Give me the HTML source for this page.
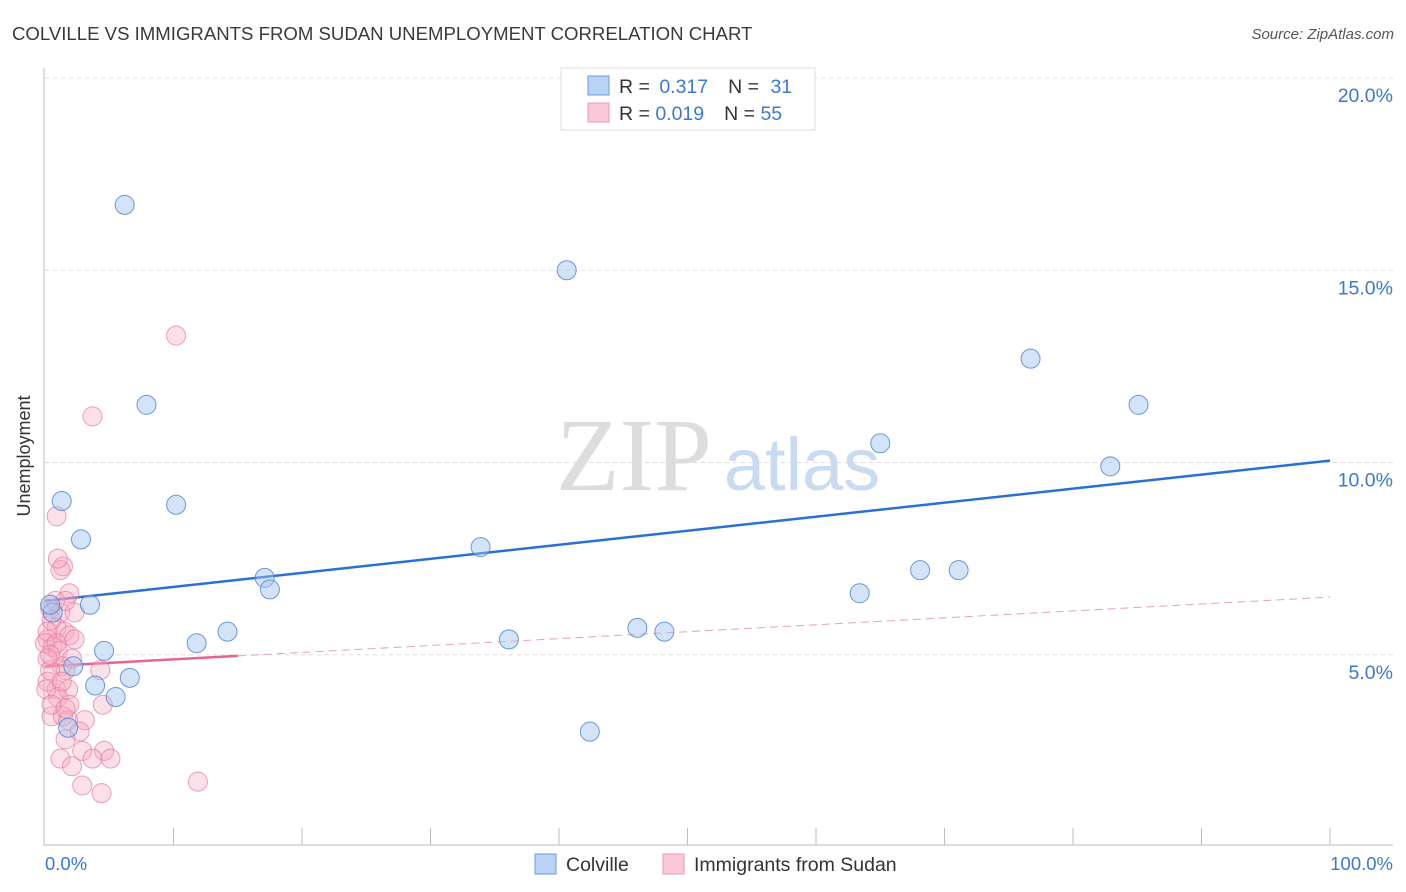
<!DOCTYPE html>
<html><head><meta charset="utf-8"><style>
body{margin:0;background:#fff;font-family:"Liberation Sans",sans-serif;}
svg{display:block}
</style></head><body>
<svg id="chart" width="1406" height="892" xmlns="http://www.w3.org/2000/svg">
<text x="12" y="40" font-size="18.6" fill="#3a3a3a">COLVILLE VS IMMIGRANTS FROM SUDAN UNEMPLOYMENT CORRELATION CHART</text>
<text x="1394" y="39" font-size="15" fill="#555" text-anchor="end" font-style="italic">Source: ZipAtlas.com</text>
<g id="grid"></g>
<g>
<text x="634" y="490" font-size="104" font-family="Liberation Serif,serif" fill="#ddd" text-anchor="middle">ZIP</text>
<text x="802" y="490" font-size="74" fill="#c9dbf0" text-anchor="middle">atlas</text>
</g>
<line x1="44" y1="68" x2="44" y2="845" stroke="#bbb"/>
<line x1="44" y1="845" x2="1393" y2="845" stroke="#bbb"/>
<text x="30" y="456" font-size="18" fill="#333" text-anchor="middle" transform="rotate(-90 30 456)">Unemployment</text>
<text x="45" y="870" font-size="18.5" fill="#3a78d6">0.0%</text>
<text x="1393" y="870" font-size="18.5" fill="#3a78d6" text-anchor="end">100.0%</text>
<g id="lines"></g>
<g id="points"></g>
<g>
<rect x="561" y="68" width="254" height="62" fill="#fff" stroke="#ddd"/>
<rect x="588" y="76" width="21" height="19" fill="#b8d3f5" stroke="#6a9be0"/>
<rect x="588" y="103" width="21" height="19" fill="#fac8d6" stroke="#ee9ab5"/>
<text x="619" y="93" font-size="19.5" fill="#333">R = <tspan fill="#3a78d6" dx="4">0.317</tspan><tspan dx="20">N = </tspan><tspan fill="#3a78d6" dx="6">31</tspan></text>
<text x="619" y="120" font-size="19.5" fill="#333">R = <tspan fill="#3a78d6">0.019</tspan><tspan dx="20">N = </tspan><tspan fill="#3a78d6">55</tspan></text>
</g>
<g>
<rect x="535" y="854" width="21" height="20" fill="#b8d3f5" stroke="#6a9be0"/>
<text x="566" y="871" font-size="19.5" fill="#333">Colville</text>
<rect x="663" y="854" width="21" height="20" fill="#fac8d6" stroke="#ee9ab5"/>
<text x="694" y="871" font-size="19.5" fill="#333">Immigrants from Sudan</text>
</g>
</svg>
<script>
const yTicks=[5,10,15,20];
const yTickLabels=["5.0%","10.0%","15.0%","20.0%"];
const xTicks=[10,20,30,40,50,60,70,80,90,100];
const blueX=[6.2,40.6,7.9,76.7,85.1,65.0,82.9,1.3,10.2,2.8,33.9,17.1,17.5,68.1,71.1,63.4,3.5,0.6,46.1,48.2,14.2,36.1,11.8,4.6,2.2,3.9,6.6,5.5,42.4,1.8,0.4];
const blueY=[16.7,15.0,11.5,12.7,11.5,10.5,9.9,9.0,8.9,8.0,7.8,7.0,6.7,7.2,7.2,6.6,6.3,6.1,5.7,5.6,5.6,5.4,5.3,5.1,4.7,4.2,4.4,3.9,3.0,3.1,6.3];
const pinkX=[10.2,3.7,0.9,1.4,1.2,1.9,0.4,1.2,2.3,0.5,0.9,1.5,1.9,0.2,0.6,1.0,0.2,2.1,1.3,1.6,4.3,0.4,0.2,0.9,1.8,1.0,1.9,4.5,0.5,1.4,1.8,3.1,2.7,1.6,2.9,4.6,1.2,3.7,5.1,2.1,2.9,11.9,4.4,0.2,0.8,1.6,0.1,0.5,1.0,0.0,0.9,2.3,0.4,1.3,1.6];
const pinkY=[13.3,11.2,8.6,7.3,7.2,6.6,6.2,6.1,6.1,5.9,5.7,5.6,5.5,5.4,5.2,5.1,4.9,4.9,4.7,4.6,4.6,4.6,4.3,4.1,4.1,3.9,3.7,3.7,3.4,3.4,3.3,3.3,3.0,2.8,2.5,2.5,2.3,2.3,2.3,2.1,1.6,1.7,1.4,5.6,6.4,6.4,4.1,3.7,7.5,5.3,5.3,5.4,5.0,4.3,3.6];
const blueTrend=[6.4,10.05];
const pinkTrend=[4.7,6.5];
const pinkSolidEnd=15;
const X0=45,X1=1330,Y0=847,PPY=38.45;
const sx=v=>X0+(X1-X0)*v/100;
const sy=v=>Y0-v*PPY;
const NS="http://www.w3.org/2000/svg";
function mk(t,a,p){const e=document.createElementNS(NS,t);for(const k in a)e.setAttribute(k,a[k]);p.appendChild(e);return e;}
const grid=document.getElementById('grid');
yTicks.forEach((t,i)=>{
 const l=mk('line',{x1:45,x2:1393,y1:sy(t),y2:sy(t),stroke:'#ddd','stroke-dasharray':'4,4'},grid);
 
 
 const tx=mk('text',{x:1393,y:sy(t)+24,'font-size':19.5,fill:'#3a78d6','text-anchor':'end'},grid);
 tx.textContent=yTickLabels[i];
 
 
});
xTicks.forEach(t=>{
 const l=mk('line',{x1:sx(t),x2:sx(t),y1:828,y2:845,stroke:'#bbb'},grid);
 
 
});
const pts=document.getElementById('points');
pinkX.forEach((x,i)=>{
 const c=mk('circle',{cx:sx(x),cy:sy(pinkY[i]),r:9.5,fill:'rgba(245,165,192,0.35)',stroke:'rgba(230,120,160,0.7)','stroke-width':1},pts);
 
 
});
blueX.forEach((x,i)=>{
 const c=mk('circle',{cx:sx(x),cy:sy(blueY[i]),r:9.5,fill:'rgba(160,195,240,0.45)',stroke:'rgba(80,135,215,0.85)','stroke-width':1},pts);
 
 
});
const ln=document.getElementById('lines');
const b=mk('line',{x1:sx(0),y1:sy(blueTrend[0]),x2:sx(100),y2:sy(blueTrend[1]),stroke:'#2a6fd4','stroke-width':2.5},ln);


const pm=pinkTrend[0]+(pinkTrend[1]-pinkTrend[0])*pinkSolidEnd/100;
const p1=mk('line',{x1:sx(0),y1:sy(pinkTrend[0]),x2:sx(pinkSolidEnd),y2:sy(pm),stroke:'#e8648f','stroke-width':2.5},ln);


const p2=mk('line',{x1:sx(pinkSolidEnd),y1:sy(pm),x2:sx(100),y2:sy(pinkTrend[1]),stroke:'#e8a0b8','stroke-width':1,'stroke-dasharray':'8,5'},ln);


</script>
</body></html>
